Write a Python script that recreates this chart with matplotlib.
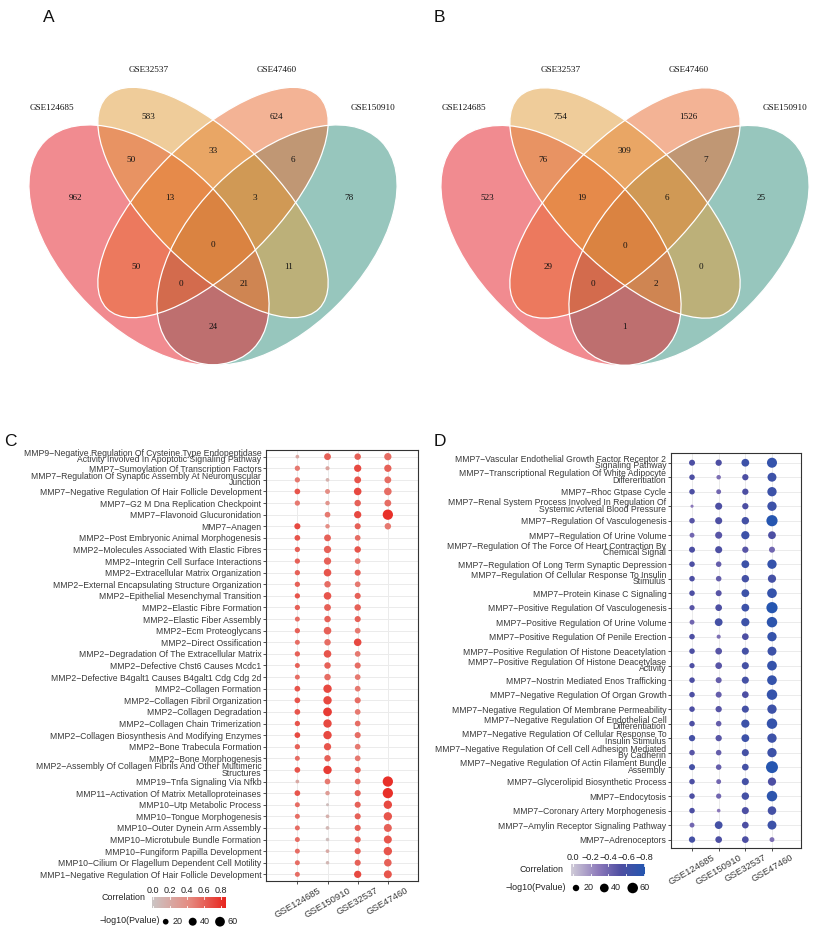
import matplotlib
matplotlib.use("Agg")
import matplotlib.pyplot as plt
import numpy as np
from matplotlib.patches import Ellipse
from matplotlib.colors import LinearSegmentedColormap, Normalize

W, H = 814, 933
plt.rcParams['font.family'] = ['Liberation Sans', 'DejaVu Sans']
SERIF = ['Liberation Serif', 'DejaVu Serif']
M = "\u2212"

# ---------------- data ----------------
venn_sets = ["GSE124685", "GSE32537", "GSE47460", "GSE150910"]
# regions: P, Y, S, T, PY, YS, ST, PYS, YST, PYST, PS, YT, PST, PYT, PT
venn_a_counts = [962, 583, 624, 78, 50, 33, 6, 13, 3, 0, 50, 11, 0, 21, 24]
venn_b_counts = [523, 754, 1526, 25, 76, 309, 7, 19, 6, 0, 29, 0, 0, 2, 1]

datasets = ["GSE124685", "GSE150910", "GSE32537", "GSE47460"]

c_terms = [
    "MMP9-Negative Regulation Of Cysteine Type Endopeptidase\nActivity Involved In Apoptotic Signaling Pathway",
    "MMP7-Sumoylation Of Transcription Factors",
    "MMP7-Regulation Of Synaptic Assembly At Neuromuscular\nJunction",
    "MMP7-Negative Regulation Of Hair Follicle Development",
    "MMP7-G2 M Dna Replication Checkpoint",
    "MMP7-Flavonoid Glucuronidation",
    "MMP7-Anagen",
    "MMP2-Post Embryonic Animal Morphogenesis",
    "MMP2-Molecules Associated With Elastic Fibres",
    "MMP2-Integrin Cell Surface Interactions",
    "MMP2-Extracellular Matrix Organization",
    "MMP2-External Encapsulating Structure Organization",
    "MMP2-Epithelial Mesenchymal Transition",
    "MMP2-Elastic Fibre Formation",
    "MMP2-Elastic Fiber Assembly",
    "MMP2-Ecm Proteoglycans",
    "MMP2-Direct Ossification",
    "MMP2-Degradation Of The Extracellular Matrix",
    "MMP2-Defective Chst6 Causes Mcdc1",
    "MMP2-Defective B4galt1 Causes B4galt1 Cdg Cdg 2d",
    "MMP2-Collagen Formation",
    "MMP2-Collagen Fibril Organization",
    "MMP2-Collagen Degradation",
    "MMP2-Collagen Chain Trimerization",
    "MMP2-Collagen Biosynthesis And Modifying Enzymes",
    "MMP2-Bone Trabecula Formation",
    "MMP2-Bone Morphogenesis",
    "MMP2-Assembly Of Collagen Fibrils And Other Multimeric\nStructures",
    "MMP19-Tnfa Signaling Via Nfkb",
    "MMP11-Activation Of Matrix Metalloproteinases",
    "MMP10-Utp Metabolic Process",
    "MMP10-Tongue Morphogenesis",
    "MMP10-Outer Dynein Arm Assembly",
    "MMP10-Microtubule Bundle Formation",
    "MMP10-Fungiform Papilla Development",
    "MMP10-Cilium Or Flagellum Dependent Cell Motility",
    "MMP1-Negative Regulation Of Hair Follicle Development",
]
nan = np.nan
c_p_124685 = [8, 17, 17, 20, 17, nan, 23, 20, 17, 17, 17, 17, 17, 17, 15, 17, 15, 17, 15,
              15, 20, 20, 20, 17, 20, 17, 15, 20, 8, 20, 15, 15, 15, 15, 15, 15, 15]
c_r_124685 = [.2, .5, .5, .65, .5, nan, .7, .65, .6, .6, .6, .6, .65, .6, .55, .6, .55, .6, .6,
              .55, .65, .65, .65, .65, .7, .6, .55, .65, .2, .65, .55, .55, .55, .55, .55, .55, .55]
c_p_150910 = [29, 10, 8, 15, 12, 20, 12, 29, 33, 33, 36, 26, 36, 29, 26, 36, 26, 36, 26,
              26, 44, 44, 48, 44, 44, 33, 26, 44, 20, 12, 5, 8, 8, 7, 8, 7, nan]
c_r_150910 = [.6, .25, .15, .4, .35, .5, .4, .6, .6, .6, .65, .55, .65, .6, .6, .6, .55, .65, .6,
              .55, .7, .7, .75, .7, .7, .65, .6, .75, .5, .3, .05, .15, .1, .05, .2, .1, nan]
c_p_32537 = [26, 33, 29, 36, 26, 33, 23, 20, 26, 20, 23, 20, 23, 26, 23, 20, 36, 20, 23,
             20, 20, 23, 20, 20, 23, 20, 20, 23, 20, 23, 23, 23, 23, 23, 23, 23, 33]
c_r_32537 = [.6, .7, .65, .7, .6, .7, .6, .55, .65, .5, .6, .5, .6, .6, .6, .5, .7, .5, .55,
             .5, .5, .55, .5, .55, .55, .5, .5, .6, .55, .6, .6, .6, .6, .6, .6, .6, .7]
c_p_47460 = [33, 33, 29, 36, 29, 67, 26] + [nan] * 21 + [67, 67, 44, 44, 40, 40, 44, 36, 40]
c_r_47460 = [.55, .6, .55, .55, .55, .8, .5] + [nan] * 21 + [.8, .8, .7, .65, .6, .65, .65, .6, .65]

d_terms = [
    "MMP7-Vascular Endothelial Growth Factor Receptor 2\nSignaling Pathway",
    "MMP7-Transcriptional Regulation Of White Adipocyte\nDifferentiation",
    "MMP7-Rhoc Gtpase Cycle",
    "MMP7-Renal System Process Involved In Regulation Of\nSystemic Arterial Blood Pressure",
    "MMP7-Regulation Of Vasculogenesis",
    "MMP7-Regulation Of Urine Volume",
    "MMP7-Regulation Of The Force Of Heart Contraction By\nChemical Signal",
    "MMP7-Regulation Of Long Term Synaptic Depression",
    "MMP7-Regulation Of Cellular Response To Insulin\nStimulus",
    "MMP7-Protein Kinase C Signaling",
    "MMP7-Positive Regulation Of Vasculogenesis",
    "MMP7-Positive Regulation Of Urine Volume",
    "MMP7-Positive Regulation Of Penile Erection",
    "MMP7-Positive Regulation Of Histone Deacetylation",
    "MMP7-Positive Regulation Of Histone Deacetylase\nActivity",
    "MMP7-Nostrin Mediated Enos Trafficking",
    "MMP7-Negative Regulation Of Organ Growth",
    "MMP7-Negative Regulation Of Membrane Permeability",
    "MMP7-Negative Regulation Of Endothelial Cell\nDifferentiation",
    "MMP7-Negative Regulation Of Cellular Response To\nInsulin Stimulus",
    "MMP7-Negative Regulation Of Cell Cell Adhesion Mediated\nBy Cadherin",
    "MMP7-Negative Regulation Of Actin Filament Bundle\nAssembly",
    "MMP7-Glycerolipid Biosynthetic Process",
    "MMP7-Endocytosis",
    "MMP7-Coronary Artery Morphogenesis",
    "MMP7-Amylin Receptor Signaling Pathway",
    "MMP7-Adrenoceptors",
]
d_p_124685 = [17, 14, 14, 2, 14, 10, 17, 14, 14, 14, 12, 10, 14, 14, 12, 14, 14, 14, 14,
              19, 14, 17, 14, 14, 14, 10, 19]
d_r_124685 = [-.55, -.55, -.55, -.3, -.5, -.4, -.55, -.55, -.55, -.55, -.5, -.4, -.55, -.55,
              -.55, -.55, -.55, -.55, -.55, -.6, -.5, -.6, -.55, -.55, -.55, -.4, -.6]
d_p_150910 = [19, 8, 10, 25, 25, 25, 25, 14, 14, 17, 22, 31, 6, 22, 22, 17, 17, 19, 14,
              19, 14, 14, 10, 12, 4, 31, 22]
d_r_150910 = [-.55, -.35, -.4, -.55, -.55, -.5, -.55, -.45, -.45, -.5, -.55, -.6, -.35, -.5,
              -.5, -.45, -.45, -.5, -.45, -.5, -.45, -.45, -.4, -.4, -.3, -.6, -.55]
d_p_32537 = [31, 19, 19, 19, 28, 35, 19, 31, 28, 31, 31, 35, 22, 25, 25, 25, 22, 25, 35,
             31, 25, 22, 25, 28, 25, 22, 22]
d_r_32537 = [-.65, -.55, -.55, -.55, -.6, -.65, -.5, -.65, -.6, -.65, -.65, -.65, -.55, -.6,
             -.6, -.6, -.55, -.6, -.65, -.65, -.6, -.6, -.6, -.6, -.55, -.55, -.55]
d_p_47460 = [54, 42, 46, 46, 68, 31, 17, 46, 35, 50, 68, 59, 46, 42, 50, 50, 59, 46, 59,
             46, 46, 78, 35, 59, 38, 42, 10]
d_r_47460 = [-.7, -.65, -.65, -.65, -.8, -.55, -.4, -.7, -.6, -.7, -.8, -.75, -.7, -.65,
             -.7, -.7, -.7, -.65, -.7, -.65, -.65, -.8, -.55, -.75, -.6, -.65, -.35]

size_breaks = [20, 40, 60]
c_cbar_ticks = [0.0, 0.2, 0.4, 0.6, 0.8]
d_cbar_ticks = [0.0, -0.2, -0.4, -0.6, -0.8]

# ---------------- layout (pixels) ----------------
# ellipses drawn in order teal, pink, salmon, yellow
ell_xy = [(277, 245), (149, 245), (213, 202.5), (213, 202.5)]
ell_wh = [(294, 170), (294, 170), (300, 127), (300, 127)]
ell_ang = [-45, 45, -45, 45]
ell_col = ["#318F7D", "#E51923", "#E9692D", "#E19B37"]
region_xy = [(75.7, 198), (148.3, 116.7), (276.7, 116.7), (349, 198), (131, 160),
             (212.7, 150.7), (293.3, 160), (170, 198), (255, 198), (212.7, 245),
             (135.7, 266.7), (289, 266.7), (180.7, 284), (244.3, 284), (212.7, 326.7)]
set_xy = [(51.7, 107.7), (148.3, 69.7), (276.7, 69.7), (373.3, 107.7)]


def px_rect(l, t, r, b):
    return [l / W, 1 - b / H, (r - l) / W, (b - t) / H]


def draw_venn(ax, dx, dy, counts):
    for (cx, cy), (w, h), a, col in zip(ell_xy, ell_wh, ell_ang, ell_col):
        ax.add_patch(Ellipse((cx + dx, cy + dy), w, h, angle=a, facecolor=col,
                             alpha=0.5, edgecolor='none', zorder=1))
    for (cx, cy), (w, h), a in zip(ell_xy, ell_wh, ell_ang):
        ax.add_patch(Ellipse((cx + dx, cy + dy), w, h, angle=a, facecolor='none',
                             edgecolor='white', lw=0.9, zorder=2))
    for (x, y), n in zip(region_xy, counts):
        ax.text(x + dx, y + dy, str(n), ha='center', va='center', fontsize=6.6,
                family=SERIF, color='#111111', zorder=3)
    for (x, y), name in zip(set_xy, venn_sets):
        ax.text(x + dx, y + dy, name, ha='center', va='center', fontsize=6.6,
                family=SERIF, color='#111111', zorder=3)


# point area in pt^2 from -log10(P)
def c_size(p):
    return (1.2 * np.asarray(p, float) + 1) * 0.5184 * 1.3


def d_size(p):
    return (1.4 * np.asarray(p, float) + 5) * 0.5184 * 1.25


c_cmap = LinearSegmentedColormap.from_list("c", ["#CBC5C5", "#E58C82", "#E8251E"])
c_norm = Normalize(-0.01, 0.85)
d_cmap = LinearSegmentedColormap.from_list(
    "d", [(0, "#2456B0"), (0.33, "#4F4FA2"), (0.62, "#8B78BA"), (1, "#D0CCD8")])
d_norm = Normalize(-0.81, 0.02)


def dot_panel(rect, terms, pvals, cors, cmap, norm, size_fn, xlim, ylim):
    ax = fig.add_axes(rect)
    n = len(terms)
    rows = np.arange(n)
    for j, (p, r) in enumerate(zip(pvals, cors)):
        p = np.asarray(p, float)
        r = np.asarray(r, float)
        ok = ~np.isnan(p)
        ax.scatter(np.full(ok.sum(), j), rows[ok], s=size_fn(p[ok]), c=r[ok],
                   cmap=cmap, norm=norm, linewidths=0, zorder=3)
    ax.set_xlim(*xlim)
    ax.set_ylim(*ylim)
    ax.set_xticks(range(len(datasets)))
    ax.set_xticklabels(datasets, rotation=30, ha='center', va='top', fontsize=6.8,
                       color='#3a3a3a')
    ax.set_yticks(rows)
    ax.set_yticklabels([t.replace("-", M, 1) for t in terms], fontsize=6.2,
                       linespacing=0.66, color='#3a3a3a')
    ax.tick_params(length=2, width=0.6, color='#333333', pad=1.2)
    ax.grid(color='#EBEBEB', lw=0.7)
    ax.set_axisbelow(True)
    for s in ax.spines.values():
        s.set_color('#333333')
        s.set_linewidth(0.8)
    return ax


def cbar(ax, x0, x1, y0, y1, v0, v1, ticks, cmap, norm):
    grad = np.linspace(v0, v1, 256)[None, :]
    ax.imshow(grad, extent=(x0, x1, y1, y0), aspect='auto', cmap=cmap, norm=norm,
              interpolation='bilinear', zorder=2)
    for t in ticks:
        x = x0 + (t - v0) / (v1 - v0) * (x1 - x0)
        ax.plot([x, x], [y0, y0 + 2], color='white', lw=0.6, zorder=3)
        ax.plot([x, x], [y1 - 2, y1], color='white', lw=0.6, zorder=3)
        ax.text(x, y0 - 6.5, f"{t:.1f}".replace("-", M), ha='center', va='center',
                fontsize=6.5, color='#222222')


def size_legend(ax, xs, lxs, y, sizes):
    ax.scatter(xs, [y] * len(xs), s=sizes, color='black', linewidths=0, zorder=3)
    for lx, b in zip(lxs, size_breaks):
        ax.text(lx, y, str(b), ha='left', va='center', fontsize=6.5, color='#222222')


fig = plt.figure(figsize=(W / 100, H / 100), dpi=100)
ax0 = fig.add_axes([0, 0, 1, 1])
ax0.axis('off')

draw_venn(ax0, 0, 0, venn_a_counts)
draw_venn(ax0, 412, 0.5, venn_b_counts)

for letter, (x, y) in zip("ABCD", [(48.7, 18), (439.5, 18), (10, 441), (439.5, 441)]):
    ax0.text(x, y, letter, ha='center', va='center', fontsize=12.5, color='#111111')

dot_panel(px_rect(265.7, 449.7, 418, 881.3), c_terms,
          [c_p_124685, c_p_150910, c_p_32537, c_p_47460],
          [c_r_124685, c_r_150910, c_r_32537, c_r_47460],
          c_cmap, c_norm, c_size, (-1.05, 4.0), (36.6, -0.6))
dot_panel(px_rect(670.7, 453.3, 801.3, 848.3), d_terms,
          [d_p_124685, d_p_150910, d_p_32537, d_p_47460],
          [d_r_124685, d_r_150910, d_r_32537, d_r_47460],
          d_cmap, d_norm, d_size, (-0.8, 4.1), (26.6, -0.65))

# legends for C
ax0.text(101.7, 897.5, "Correlation", ha='left', va='center', fontsize=6.4, color='#222222')
cbar(ax0, 151.7, 225, 897.3, 908.3, -0.01, 0.85, c_cbar_ticks, c_cmap, c_norm)
ax0.text(100, 920.7, M + "log10(Pvalue)", ha='left', va='center', fontsize=6.4, color='#222222')
size_legend(ax0, [165.7, 192.7, 220], [172.7, 200, 227.7], 921.7, c_size(size_breaks))

# legends for D
ax0.text(520, 869.3, "Correlation", ha='left', va='center', fontsize=6.4, color='#222222')
cbar(ax0, 571, 645, 864, 876, 0.02, -0.81, d_cbar_ticks, d_cmap, d_norm)
ax0.text(506, 887.7, M + "log10(Pvalue)", ha='left', va='center', fontsize=6.4, color='#222222')
size_legend(ax0, [576, 604.3, 632.7], [583.3, 611, 639.3], 888, d_size(size_breaks))

ax0.set_xlim(0, W)
ax0.set_ylim(H, 0)

fig.savefig("out.png", dpi=100)
